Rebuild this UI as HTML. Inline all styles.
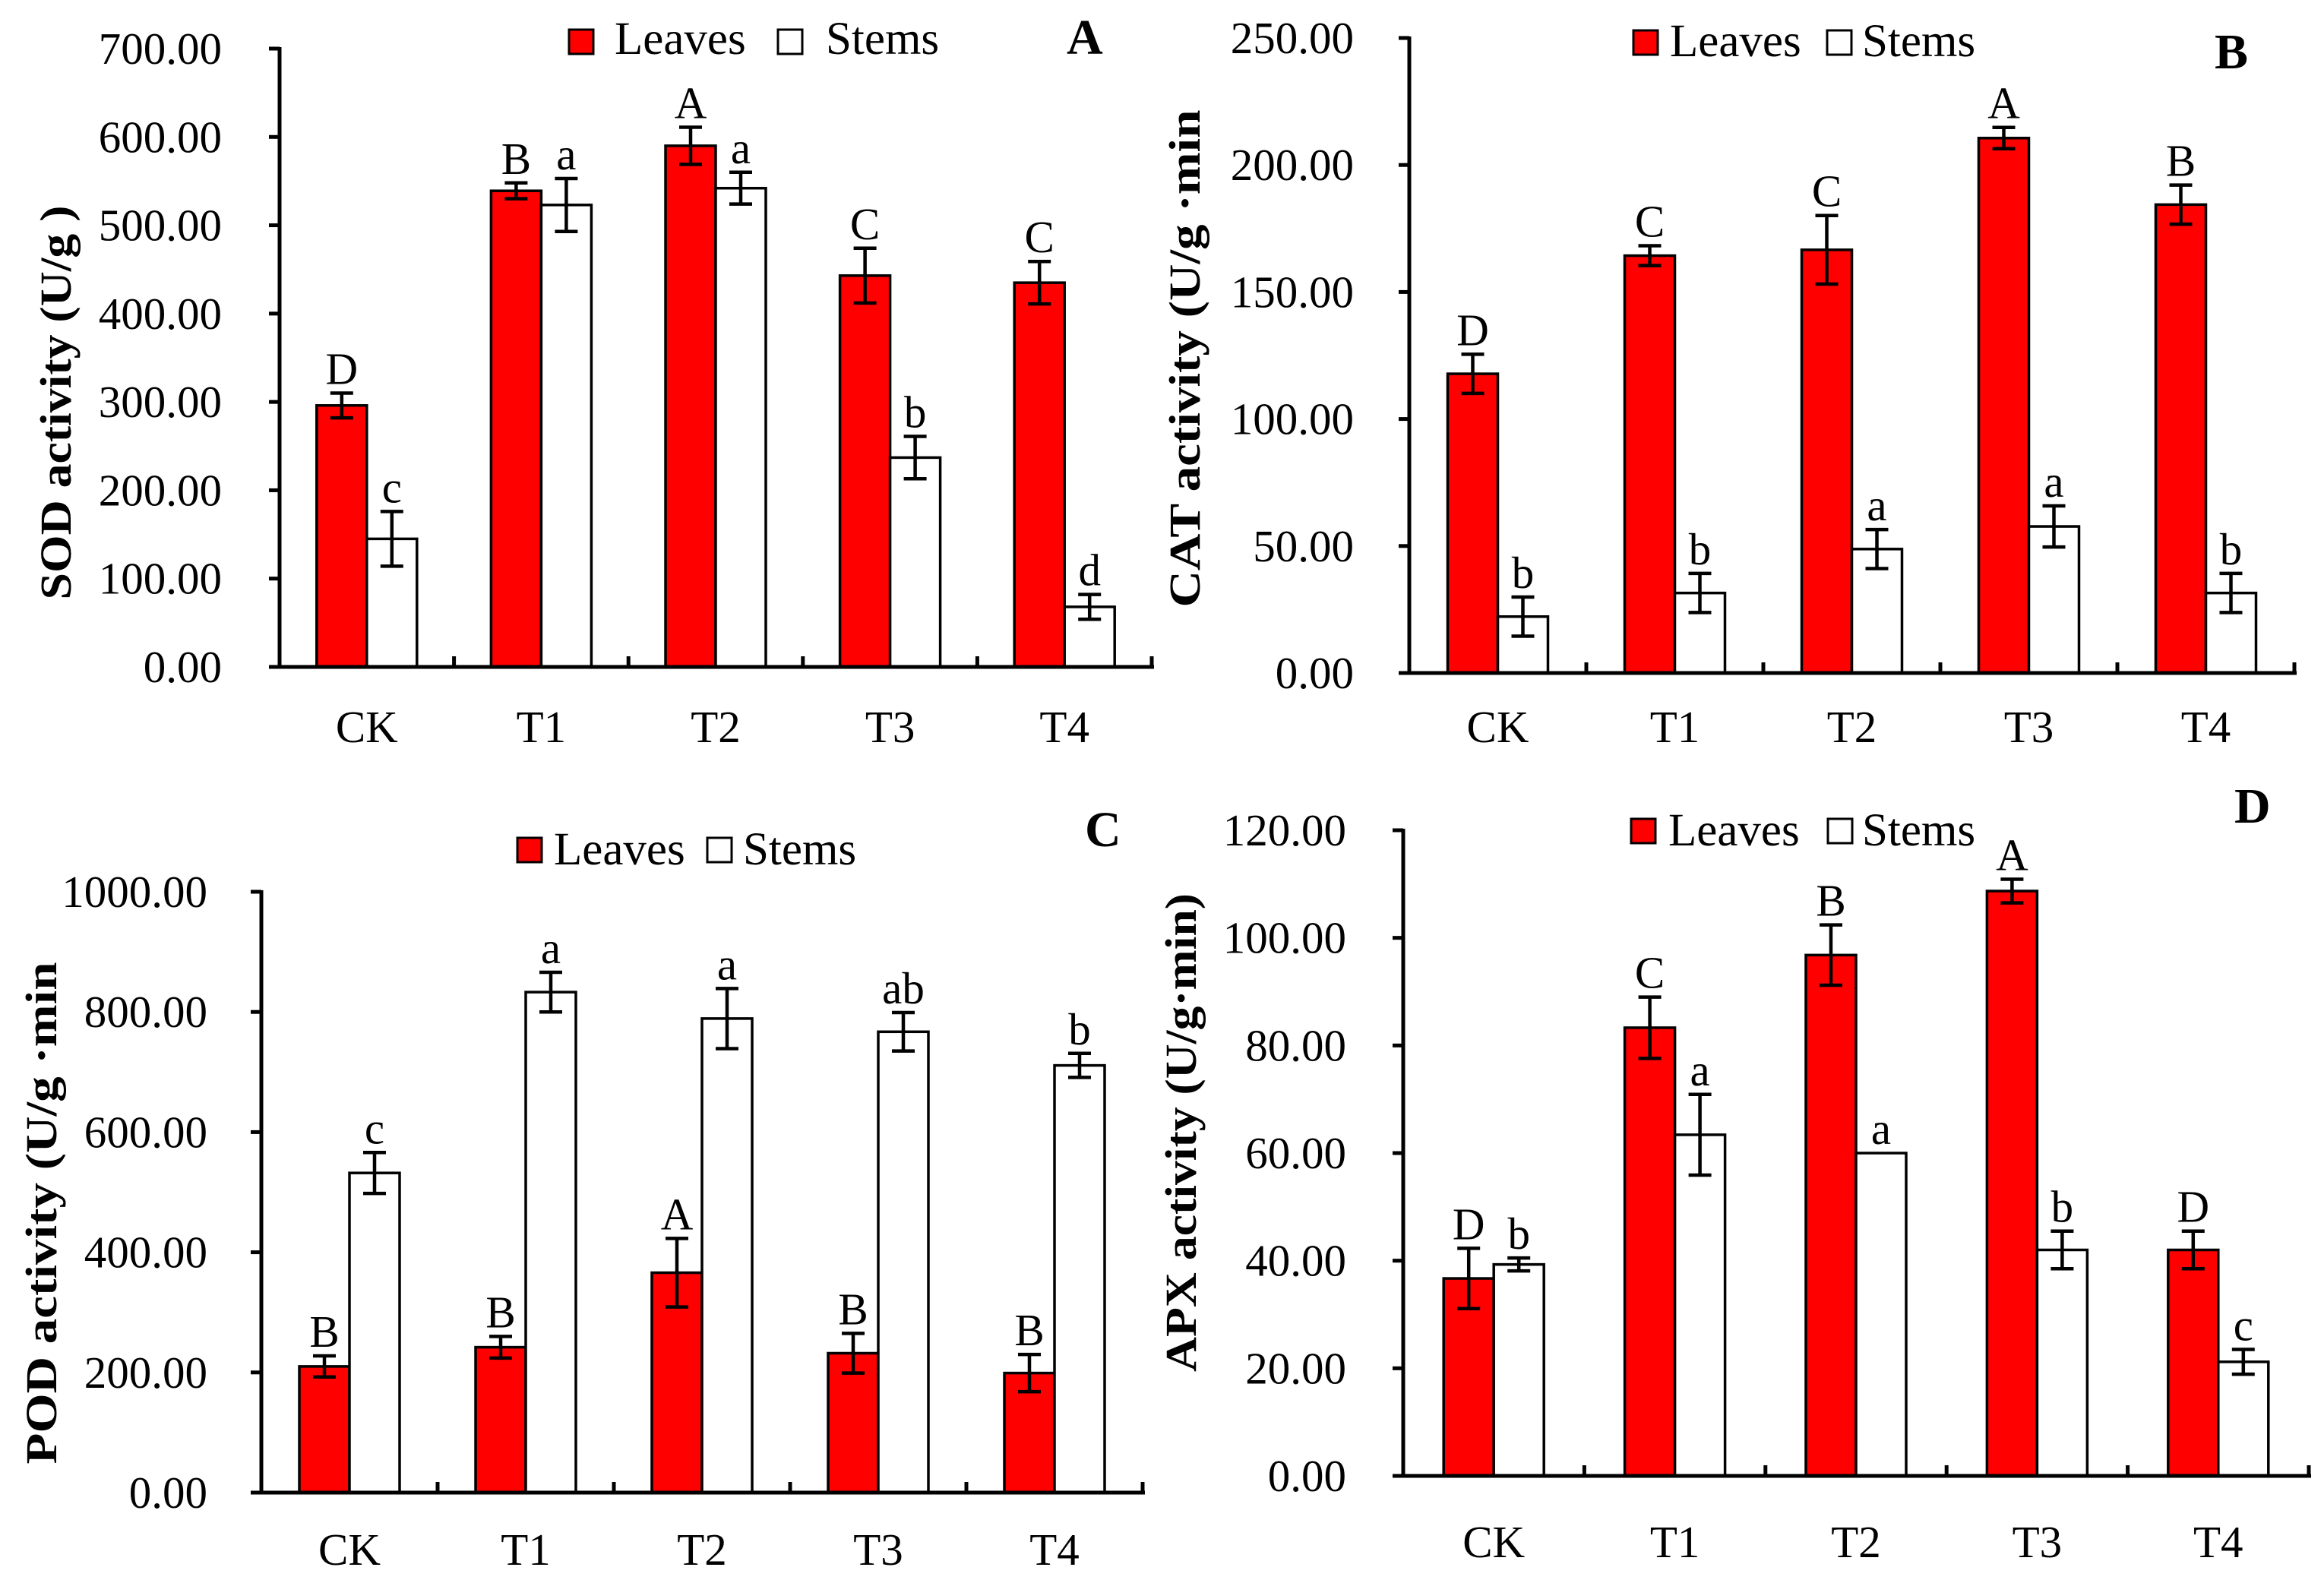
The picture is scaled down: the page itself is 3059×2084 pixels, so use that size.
<!DOCTYPE html>
<html><head><meta charset="utf-8"><style>
html,body{margin:0;padding:0;background:#fff;}
svg{display:block;font-family:"Liberation Serif","Times New Roman",serif;}
</style></head><body>
<svg id="chart" width="3059" height="2084" viewBox="0 0 3059 2084" xmlns="http://www.w3.org/2000/svg"></svg>
<script>
const categories = ["CK","T1","T2","T3","T4"];
// Panel A: SOD
const sodLeaves = [296, 539, 590, 443, 435];
const sodLeavesErr = [14, 9, 21, 31, 24];
const sodStems = [145, 523, 542, 237, 68];
const sodStemsErr = [31, 30, 18, 24, 14];
const sodLeafLetters = ["D","B","A","C","C"];
const sodStemLetters = ["c","a","a","b","d"];
const sodTicks = [0,100,200,300,400,500,600,700];
// Panel B: CAT
const catLeaves = [117.8, 164.3, 166.6, 210.6, 184.4];
const catLeavesErr = [7.7, 3.9, 13.5, 4.2, 7.7];
const catStems = [22.2, 31.5, 48.8, 57.7, 31.5];
const catStemsErr = [7.7, 7.7, 7.7, 8.1, 7.7];
const catLeafLetters = ["D","C","C","A","B"];
const catStemLetters = ["b","b","a","a","b"];
const catTicks = [0,50,100,150,200,250];
// Panel C: POD
const podLeaves = [210, 242, 366, 232, 199];
const podLeavesErr = [17.5, 18, 57, 33, 31];
const podStems = [532, 833, 789, 767, 711];
const podStemsErr = [34, 33, 50, 32, 20];
const podLeafLetters = ["B","B","A","B","B"];
const podStemLetters = ["c","a","a","ab","b"];
const podTicks = [0,200,400,600,800,1000];
// Panel D: APX
const apxLeaves = [36.7, 83.3, 96.8, 108.7, 42.0];
const apxLeavesErr = [5.6, 5.7, 5.6, 2.2, 3.5];
const apxStems = [39.3, 63.4, 60.0, 42.0, 21.2];
const apxStemsErr = [1.2, 7.5, 0, 3.5, 2.3];
const apxLeafLetters = ["D","C","B","A","D"];
const apxStemLetters = ["b","a","a","b","c"];
const apxTicks = [0,20,40,60,80,100,120];

const NS = "http://www.w3.org/2000/svg";
const svg = document.getElementById("chart");
function el(tag, attrs, parent, text){
  const e = document.createElementNS(NS, tag);
  for (const k in attrs) e.setAttribute(k, attrs[k]);
  if (text !== undefined) e.textContent = text;
  (parent||svg).appendChild(e);
  return e;
}

const panels = [
  {id:"a", x0:368, x1:1516, y0:878, yTop:64, max:700, ticks:sodTicks, L:sodLeaves, Le:sodLeavesErr, S:sodStems, Se:sodStemsErr, LL:sodLeafLetters, SL:sodStemLetters,
   tickRight:292, ylab:"SOD activity (U/g )", ylx:73, yly:530, ylLen:519,
   leg:{rx:749, ry:39, wx:1024, tx1:809, tx2:1087, base:71}, tag:"A", tagX:1404, tagY:71, catY:977},
  {id:"b", x0:1855, x1:3020, y0:886, yTop:50, max:250, ticks:catTicks, L:catLeaves, Le:catLeavesErr, S:catStems, Se:catStemsErr, LL:catLeafLetters, SL:catStemLetters,
   tickRight:1782, ylab:"CAT activity (U/g ·min", ylx:1559, yly:472, ylLen:655,
   leg:{rx:2150, ry:40, wx:2405, tx1:2198, tx2:2451, base:74}, tag:"B", tagX:2915, tagY:90, catY:977},
  {id:"c", x0:344, x1:1504, y0:1965, yTop:1174, max:1000, ticks:podTicks, L:podLeaves, Le:podLeavesErr, S:podStems, Se:podStemsErr, LL:podLeafLetters, SL:podStemLetters,
   tickRight:273, ylab:"POD activity  (U/g ·min", ylx:54, yly:1597, ylLen:661,
   leg:{rx:681, ry:1103, wx:931, tx1:729, tx2:978, base:1138}, tag:"C", tagX:1428, tagY:1114, catY:2060},
  {id:"d", x0:1847, x1:3039, y0:1943, yTop:1093, max:120, ticks:apxTicks, L:apxLeaves, Le:apxLeavesErr, S:apxStems, Se:apxStemsErr, LL:apxLeafLetters, SL:apxStemLetters,
   tickRight:1772, ylab:"APX activity (U/g·min)", ylx:1554, yly:1491, ylLen:630,
   leg:{rx:2147, ry:1078, wx:2406, tx1:2196, tx2:2451, base:1113}, tag:"D", tagX:2941, tagY:1083, catY:2050}
];

panels.forEach(p => {
  const g = el("g", {});
  
  
  const yS = v => p.y0 - (v / p.max) * (p.y0 - p.yTop);
  const step = (p.x1 - p.x0) / categories.length;
  const xC = i => p.x0 + step * (i + 0.5);
  const bw = 66;
  // y ticks
  p.ticks.forEach(t => {
    const ln = el("line", {x1:p.x0-14, x2:p.x0, y1:yS(t), y2:yS(t), stroke:"#000","stroke-width":5}, g);
    
    
    const tx = el("text", {x:p.tickRight, y:yS(t)+20, "text-anchor":"end","font-size":59, fill:"#000"}, g, t.toFixed(2));
    
    
  });
  // bars
  categories.forEach((c, i) => {
    const cx = xC(i);
    const pairs = [
      {v:p.L[i], e:p.Le[i], x:cx-bw, fill:"#ff0000", lt:p.LL[i], nm:"leaves"},
      {v:p.S[i], e:p.Se[i], x:cx, fill:"#ffffff", lt:p.SL[i], nm:"stems"}
    ];
    pairs.forEach(b => {
      const r = el("rect", {x:b.x, y:yS(b.v), width:bw, height:p.y0-yS(b.v), fill:b.fill, stroke:"#000","stroke-width":3.5}, g);
      
      
      const mx = b.x + bw/2;
      let top = yS(b.v);
      if (b.e > 0) {
        const eg = el("g", {stroke:"#000","stroke-width":4.5}, g);
        
        
        el("line", {x1:mx, x2:mx, y1:yS(b.v+b.e), y2:yS(b.v-b.e)}, eg);
        el("line", {x1:mx-15, x2:mx+15, y1:yS(b.v+b.e), y2:yS(b.v+b.e)}, eg);
        el("line", {x1:mx-15, x2:mx+15, y1:yS(b.v-b.e), y2:yS(b.v-b.e)}, eg);
        top = yS(b.v+b.e);
      }
      const lt = el("text", {x:mx, y:top-12, "text-anchor":"middle","font-size":59, fill:"#000"}, g, b.lt);
      
      
    });
    const cl = el("text", {x:cx, y:p.catY, "text-anchor":"middle","font-size":59, fill:"#000"}, g, c);
    
    
  });
  // x ticks
  for (let k = 1; k <= categories.length; k++) {
    const xt = p.x0 + step * k;
    const ln = el("line", {x1:xt, x2:xt, y1:p.y0, y2:p.y0-14, stroke:"#000","stroke-width":5}, g);
    
    
  }
  // axes
  const ya = el("line", {x1:p.x0, x2:p.x0, y1:p.yTop-2, y2:p.y0+2, stroke:"#000","stroke-width":5}, g);
  
  
  const xa = el("line", {x1:p.x0-2, x2:p.x1+3, y1:p.y0, y2:p.y0, stroke:"#000","stroke-width":5}, g);
  
  
  // y label
  const yl = el("text", {x:0, y:0, transform:"translate("+(p.ylx+20)+","+p.yly+") rotate(-90)", "text-anchor":"middle","font-size":58,"font-weight":"bold", fill:"#000", textLength:p.ylLen, lengthAdjust:"spacingAndGlyphs"}, g, p.ylab);
  
  
  // legend
  const lg = el("g", {}, g);
  
  
  const r1 = el("rect", {x:p.leg.rx, y:p.leg.ry, width:32, height:32, fill:"#ff0000", stroke:"#000","stroke-width":3}, lg);
  
  
  const t1 = el("text", {x:p.leg.tx1, y:p.leg.base, "font-size":61, fill:"#000"}, lg, "Leaves");
  
  
  const r2 = el("rect", {x:p.leg.wx, y:p.leg.ry, width:32, height:32, fill:"#fff", stroke:"#000","stroke-width":3}, lg);
  
  
  const t2 = el("text", {x:p.leg.tx2, y:p.leg.base, "font-size":61, fill:"#000"}, lg, "Stems");
  
  
  const tg = el("text", {x:p.tagX, y:p.tagY, "font-size":66,"font-weight":"bold", fill:"#000"}, g, p.tag);
  
  
});
</script>
</body></html>
